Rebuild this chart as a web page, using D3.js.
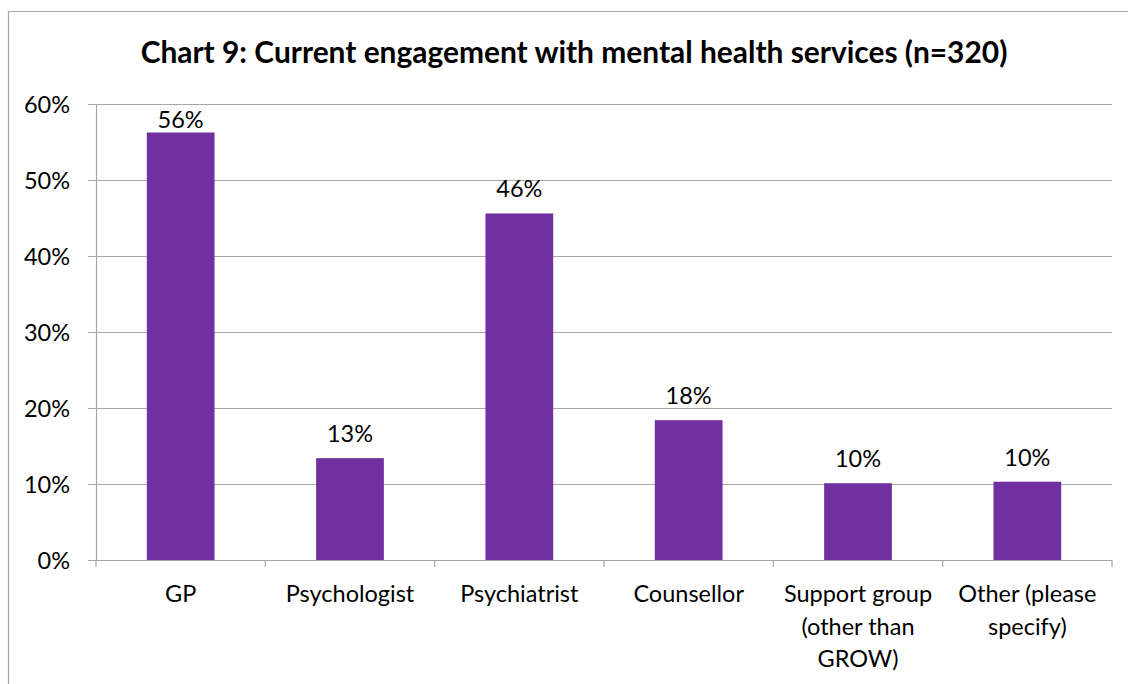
<!DOCTYPE html>
<html>
<head>
<meta charset="utf-8">
<script src="https://cdn.jsdelivr.net/npm/d3@7"></script>
<style>
  html, body { margin: 0; padding: 0; background: #fff; }
  svg { display: block; font-family: Lato, "Open Sans", sans-serif; }
</style>
</head>
<body>
<svg id="chart" width="1128" height="684"></svg>
<script>
// Survey results: share of respondents currently using each service
const titleText = "Chart 9: Current engagement with mental health services (n=320)";
const categories = ["GP", "Psychologist", "Psychiatrist", "Counsellor", "Support group (other than GROW)", "Other (please specify)"];
const categoryLines = [["GP"], ["Psychologist"], ["Psychiatrist"], ["Counsellor"], ["Support group", "(other than", "GROW)"], ["Other (please", "specify)"]];
const shares = [0.5625, 0.134, 0.456, 0.184, 0.101, 0.103];
const yTicks = [0, 0.1, 0.2, 0.3, 0.4, 0.5, 0.6];

const svg = d3.select("#chart");
const W = 1128, H = 684;
const plot = { left: 96, right: 1112, top: 104, bottom: 560 };
const gridColor = "#a6a6a6";
const barColor = "#7030a0";
const labelSize = 23.5;

// Outer chart frame (top and left edges visible)
svg.append("path")
  .attr("d", `M8.5,${H} V11.5 H${W}`)
  .attr("fill", "none")
  .attr("stroke", gridColor)
  .attr("stroke-width", 1.2);

// Title, fitted to its width
const title = svg.append("text")
  .attr("x", 574)
  .attr("y", 63)
  .attr("text-anchor", "middle")
  .attr("font-weight", "bold")
  .attr("font-size", 28)
  .attr("fill", "#000")
  .text(titleText);
const tw = title.node().getComputedTextLength();
title.attr("font-size", 28 * 867 / tw);

const x = d3.scaleBand()
  .domain(categories)
  .range([plot.left, plot.right])
  .paddingInner(0.6)
  .paddingOuter(0.3);

const y = d3.scaleLinear()
  .domain([0, 0.6])
  .range([plot.bottom, plot.top]);

// Horizontal gridlines + y tick labels
const yAxis = d3.axisLeft(y)
  .tickValues(yTicks)
  .tickFormat(d3.format(".0%"))
  .tickSize(-(plot.right - plot.left + 8))
  .tickSizeOuter(0);

const gy = svg.append("g")
  .attr("transform", `translate(${plot.right},0)`)
  .call(yAxis);
gy.select(".domain").remove();
gy.selectAll(".tick line")
  .attr("x1", 0)
  .attr("x2", -(plot.right - plot.left + 8))
  .attr("stroke", gridColor)
  .attr("stroke-width", 1.2);
gy.selectAll(".tick text")
  .attr("x", -(plot.right - plot.left) - 26)
  .attr("font-size", labelSize)
  .attr("font-family", "Lato, 'Open Sans', sans-serif")
  .attr("fill", "#000")
  .attr("text-anchor", "end")
  .attr("dy", "0.36em");

// Vertical axis line
svg.append("line")
  .attr("x1", plot.left + 0.5).attr("x2", plot.left + 0.5)
  .attr("y1", plot.top).attr("y2", plot.bottom)
  .attr("stroke", gridColor)
  .attr("stroke-width", 1.2);

// Category axis: boundary ticks below the baseline
const boundaries = categories.map(c => x(c) - x.step() * x.paddingInner() / 2)
  .concat([plot.right]);
svg.append("g").selectAll("line")
  .data(boundaries)
  .join("line")
  .attr("x1", d => d).attr("x2", d => d)
  .attr("y1", plot.bottom).attr("y2", plot.bottom + 7)
  .attr("stroke", gridColor)
  .attr("stroke-width", 1.2);

// Bars
svg.append("g").selectAll("rect")
  .data(categories)
  .join("rect")
  .attr("x", d => x(d))
  .attr("width", x.bandwidth())
  .attr("y", (d, i) => y(shares[i]))
  .attr("height", (d, i) => y(0) - y(shares[i]))
  .attr("fill", barColor);

// Value labels above bars
svg.append("g").selectAll("text")
  .data(categories)
  .join("text")
  .attr("x", d => x(d) + x.bandwidth() / 2)
  .attr("y", (d, i) => Math.max(plot.top + 24, y(shares[i]) - 16))
  .attr("text-anchor", "middle")
  .attr("font-size", labelSize)
  .attr("fill", "#000")
  .text((d, i) => d3.format(".0%")(shares[i]));

// Category labels (wrapped)
const lab = svg.append("g").selectAll("text")
  .data(categories)
  .join("text")
  .attr("x", d => x(d) + x.bandwidth() / 2)
  .attr("y", 602)
  .attr("text-anchor", "middle")
  .attr("font-size", labelSize)
  .attr("fill", "#000");
lab.each(function (d, i) {
  d3.select(this).selectAll("tspan")
    .data(categoryLines[i])
    .join("tspan")
    .attr("x", x(d) + x.bandwidth() / 2)
    .attr("dy", (t, j) => j === 0 ? 0 : 32.5)
    .text(t => t);
});
</script>
</body>
</html>
